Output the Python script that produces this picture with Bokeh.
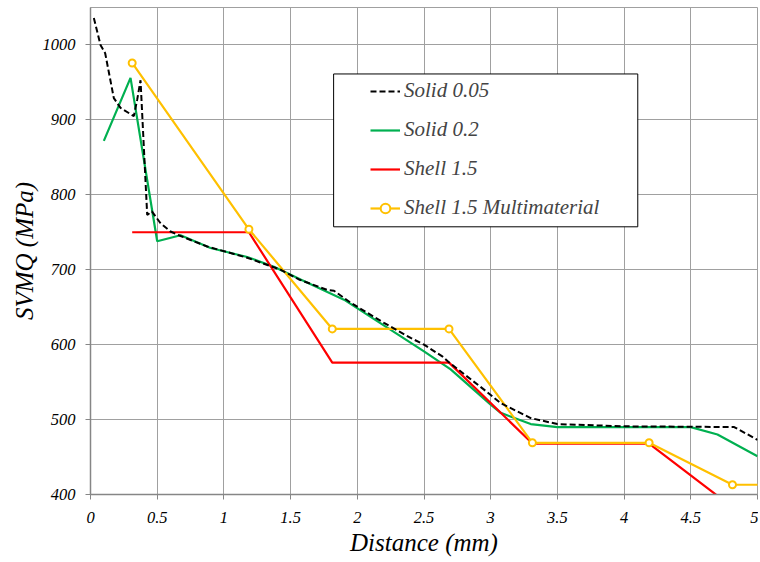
from bokeh.plotting import figure
from bokeh.models import Legend, LegendItem, FixedTicker, BoxAnnotation, Range1d
from bokeh.embed import file_html
from bokeh.resources import INLINE

# ---- data ----
solid005_x = [0.025, 0.075, 0.11, 0.175, 0.225, 0.325, 0.35, 0.375, 0.425, 0.46, 0.525, 0.6,
              0.675, 0.875, 1.175, 1.425, 1.5625, 1.775, 1.825, 1.95, 2.2, 2.4, 2.5, 2.64,
              2.69, 2.95, 3.075, 3.3, 3.5, 4.0, 4.825, 5.0]
solid005_y = [1036, 1000, 989, 929, 916, 905, 927, 953, 773, 778, 762, 751,
              745, 731, 716, 700, 687, 673, 672, 656, 629, 609, 600, 584,
              576, 540, 522, 502, 494, 491, 490, 473]

solid02_x = [0.1, 0.3, 0.5, 0.675, 0.9, 1.175, 1.375, 1.575, 1.9, 2.5, 2.7, 3.0, 3.075,
             3.3, 3.5, 4.5, 4.7, 5.0]
solid02_y = [872, 956, 738, 746, 729, 717, 704, 687, 660, 591, 567, 520, 509,
             494, 490, 490, 480, 451]

shell_x = [0.3125, 1.1875, 1.8125, 2.6875, 3.3125, 4.1875, 4.8125]
shell_y = [750, 750, 576, 576, 468, 468, 383]

multi_x = [0.3125, 1.1875, 1.8125, 2.6875, 3.3125, 4.1875, 4.8125, 5.4375]
multi_y = [976, 754, 621, 621, 469, 469, 413, 413]

series_names = ["Solid 0.05", "Solid 0.2", "Shell 1.5", "Shell 1.5 Multimaterial"]

x_ticks = [0, 0.5, 1, 1.5, 2, 2.5, 3, 3.5, 4, 4.5, 5]
x_tick_labels = ["0", "0.5", "1", "1.5", "2", "2.5", "3", "3.5", "4", "4.5", "5"]
y_ticks = [400, 500, 600, 700, 800, 900, 1000]
y_tick_labels = ["400", "500", "600", "700", "800", "900", "1000"]

FONT = "Liberation Serif"
GRID = "#a0a0a0"
AXIS = "#868686"

p = figure(width=758, height=560, x_range=Range1d(0, 5), y_range=Range1d(400, 1050),
           output_backend="svg", toolbar_location=None,
           min_border_left=90, min_border_right=1, min_border_top=7, min_border_bottom=66)
p.background_fill_color = "white"
p.border_fill_color = "white"
p.outline_line_color = GRID

p.xaxis.ticker = FixedTicker(ticks=x_ticks)
p.xaxis.major_label_overrides = dict(zip(x_ticks, x_tick_labels))
p.yaxis.ticker = FixedTicker(ticks=y_ticks)
p.yaxis.major_label_overrides = dict(zip(y_ticks, y_tick_labels))

for ax in (p.xaxis[0], p.yaxis[0]):
    ax.axis_line_color = AXIS
    ax.axis_line_width = 1.5
    ax.major_tick_line_color = AXIS
    ax.major_tick_out = 5
    ax.major_tick_in = 0
    ax.minor_tick_line_color = None
    ax.major_label_text_font = FONT
    ax.major_label_text_font_style = "italic"
    ax.major_label_text_font_size = "16.5px"
    ax.major_label_text_color = "black"
    ax.axis_label_text_font = FONT
    ax.axis_label_text_font_style = "italic"
    ax.axis_label_text_font_size = "25px"
    ax.axis_label_text_color = "black"

p.xaxis.axis_label = "Distance (mm)"
p.yaxis.axis_label = "SVMQ (MPa)"
p.xaxis.major_label_standoff = 12
p.xaxis.axis_label_standoff = 3
p.yaxis.major_label_standoff = 10
p.yaxis.axis_label_standoff = 2

p.xgrid.grid_line_color = GRID
p.ygrid.grid_line_color = GRID
p.xgrid.grid_line_width = 1
p.ygrid.grid_line_width = 1

r_green = p.line(solid02_x, solid02_y, line_color="#00b050", line_width=2.2)
r_red = p.line(shell_x, shell_y, line_color="#ff0000", line_width=2.2)
r_orange = p.line(multi_x, multi_y, line_color="#ffc000", line_width=2.2)
r_orange_pts = p.scatter(multi_x, multi_y, marker="circle", size=7, fill_color="white",
                         line_color="#ffc000", line_width=2)
r_black = p.line(solid005_x, solid005_y, line_color="black", line_width=2, line_dash="6 3")

# legend frame (placed in data space to match the reference box)
box = BoxAnnotation(left=1.8225, right=4.1025, top=961.3, bottom=757.3,
                    fill_color="white", fill_alpha=1.0, line_color="black",
                    line_alpha=1.0, line_width=1)
p.add_layout(box)

legend = Legend(items=[
    LegendItem(label=series_names[0], renderers=[r_black]),
    LegendItem(label=series_names[1], renderers=[r_green]),
    LegendItem(label=series_names[2], renderers=[r_red]),
    LegendItem(label=series_names[3], renderers=[r_orange, r_orange_pts]),
], location=(280, 274), padding=0, margin=0, border_line_color=None,
    background_fill_alpha=0, label_text_font=FONT, label_text_font_style="italic",
    label_text_font_size="21px", glyph_width=30, glyph_height=24, label_height=24,
    spacing=14, label_standoff=4)
p.add_layout(legend)

open("out.html", "w").write(file_html(p, INLINE))
